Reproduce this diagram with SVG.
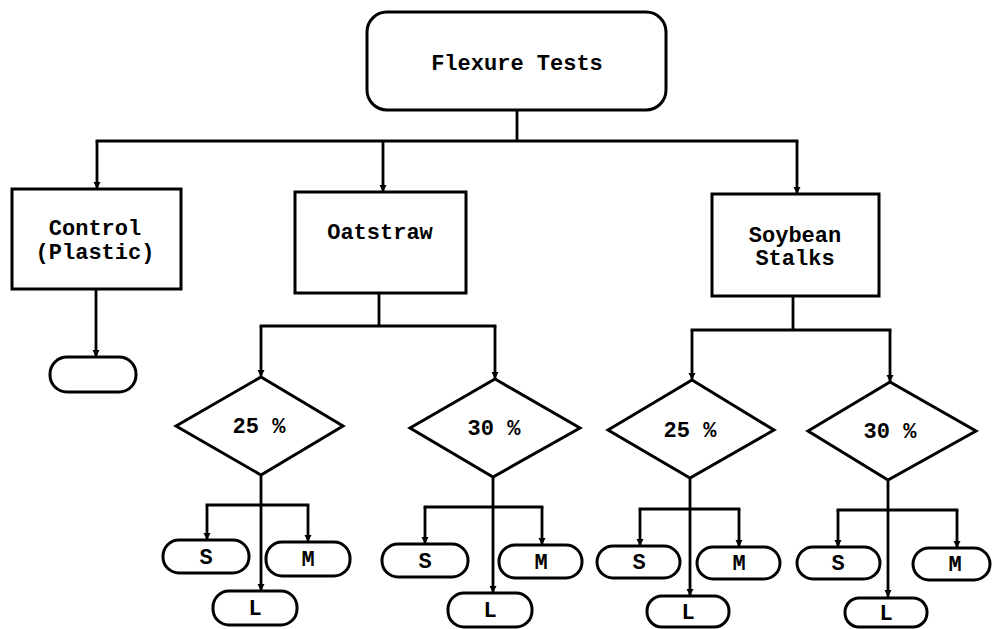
<svg xmlns="http://www.w3.org/2000/svg" width="992" height="629" viewBox="0 0 992 629">
<style>
.n{fill:#fff;stroke:#000;stroke-width:3}
.t{font-family:"Liberation Mono","DejaVu Sans Mono",monospace;font-weight:bold;font-size:22px;fill:#000;text-anchor:middle}
.c line{stroke:#000;stroke-width:2.8}
.c line.a{marker-end:url(#ah)}
</style>
<defs>
<marker id="ah" markerUnits="userSpaceOnUse" markerWidth="8" markerHeight="8" refX="7" refY="4" orient="auto">
<path d="M0,0.5 L7,4 L0,7.5 z" fill="#000"/>
</marker>
</defs>
<rect width="992" height="629" fill="#fff"/>
<g class="c" id="connectors">
<line x1="517" y1="110" x2="517" y2="141"/>
<line x1="95.6" y1="141" x2="798.4" y2="141"/>
<line class="a" x1="97" y1="141" x2="97" y2="189"/>
<line class="a" x1="383" y1="141" x2="383" y2="192"/>
<line class="a" x1="797" y1="141" x2="797" y2="194"/>
<line class="a" x1="96" y1="289" x2="96" y2="357"/>
<line x1="379" y1="293" x2="379" y2="326"/>
<line x1="259.6" y1="326" x2="496.4" y2="326"/>
<line class="a" x1="261" y1="326" x2="261" y2="377"/>
<line class="a" x1="495" y1="326" x2="495" y2="379"/>
<line x1="793" y1="296" x2="793" y2="330"/>
<line x1="690.6" y1="330" x2="891.4" y2="330"/>
<line class="a" x1="692" y1="330" x2="692" y2="380"/>
<line class="a" x1="890" y1="330" x2="890" y2="382"/>
<line class="a" x1="261" y1="475" x2="261" y2="591"/>
<line x1="205.6" y1="505" x2="309.4" y2="505"/>
<line class="a" x1="207" y1="505" x2="207" y2="540"/>
<line class="a" x1="308" y1="505" x2="308" y2="542"/>
<line class="a" x1="493" y1="477" x2="493" y2="593"/>
<line x1="423.6" y1="507" x2="543.4" y2="507"/>
<line class="a" x1="425" y1="507" x2="425" y2="544"/>
<line class="a" x1="542" y1="507" x2="542" y2="545"/>
<line class="a" x1="690" y1="478" x2="690" y2="596"/>
<line x1="638.6" y1="509" x2="740.4" y2="509"/>
<line class="a" x1="640" y1="509" x2="640" y2="546"/>
<line class="a" x1="739" y1="509" x2="739" y2="547"/>
<line class="a" x1="888" y1="480" x2="888" y2="597"/>
<line x1="836.6" y1="510" x2="958.4" y2="510"/>
<line class="a" x1="838" y1="510" x2="838" y2="547"/>
<line class="a" x1="957" y1="510" x2="957" y2="548"/>
</g>
<g id="flexure-tests">
<rect class="n" x="367" y="12" width="299" height="98" rx="20"/>
<text class="t" x="517" y="70">Flexure Tests</text>
</g>
<g id="control">
<rect class="n" x="12" y="189" width="169" height="100"/>
<text class="t" x="95" y="235">Control</text>
<text class="t" x="95" y="259">(Plastic)</text>
</g>
<g id="control-result">
<rect class="n" x="50" y="357" width="86" height="35" rx="17"/>
</g>
<g id="oatstraw">
<rect class="n" x="295" y="192" width="171" height="101"/>
<text class="t" x="380" y="239">Oatstraw</text>
</g>
<g id="soybean">
<rect class="n" x="712" y="194" width="167" height="102"/>
<text class="t" x="795" y="242">Soybean</text>
<text class="t" x="795" y="265">Stalks</text>
</g>
<g id="oat-25">
<polygon class="n" points="176,426 261,377 343,426 261,475"/>
<text class="t" x="259" y="433">25 %</text>
</g>
<g id="oat-30">
<polygon class="n" points="410,428 495,379 580,428 493,477"/>
<text class="t" x="494" y="435">30 %</text>
</g>
<g id="soy-25">
<polygon class="n" points="608,430 692,380 774,430 690,478"/>
<text class="t" x="690" y="437">25 %</text>
</g>
<g id="soy-30">
<polygon class="n" points="808,431 890,382 976,431 888,480"/>
<text class="t" x="890" y="438">30 %</text>
</g>
<g id="oat-25-s"><rect class="n" x="163" y="540" width="86" height="33" rx="16"/><text class="t" x="206" y="564">S</text></g>
<g id="oat-25-m"><rect class="n" x="266" y="542" width="84" height="34" rx="16"/><text class="t" x="308" y="566">M</text></g>
<g id="oat-25-l"><rect class="n" x="213" y="591" width="84" height="34" rx="16"/><text class="t" x="255" y="615">L</text></g>
<g id="oat-30-s"><rect class="n" x="382" y="544" width="86" height="33" rx="16"/><text class="t" x="425" y="568">S</text></g>
<g id="oat-30-m"><rect class="n" x="499" y="545" width="83" height="33" rx="16"/><text class="t" x="541" y="569">M</text></g>
<g id="oat-30-l"><rect class="n" x="448" y="593" width="84" height="34" rx="16"/><text class="t" x="490" y="617">L</text></g>
<g id="soy-25-s"><rect class="n" x="597" y="546" width="83" height="32" rx="16"/><text class="t" x="639" y="569">S</text></g>
<g id="soy-25-m"><rect class="n" x="697" y="547" width="83" height="32" rx="16"/><text class="t" x="739" y="570">M</text></g>
<g id="soy-25-l"><rect class="n" x="647" y="596" width="82" height="31" rx="15"/><text class="t" x="688" y="619">L</text></g>
<g id="soy-30-s"><rect class="n" x="797" y="547" width="83" height="32" rx="16"/><text class="t" x="838" y="570">S</text></g>
<g id="soy-30-m"><rect class="n" x="913" y="548" width="77" height="32" rx="16"/><text class="t" x="955" y="571">M</text></g>
<g id="soy-30-l"><rect class="n" x="845" y="598" width="82" height="29" rx="14"/><text class="t" x="886" y="620">L</text></g>
</svg>
